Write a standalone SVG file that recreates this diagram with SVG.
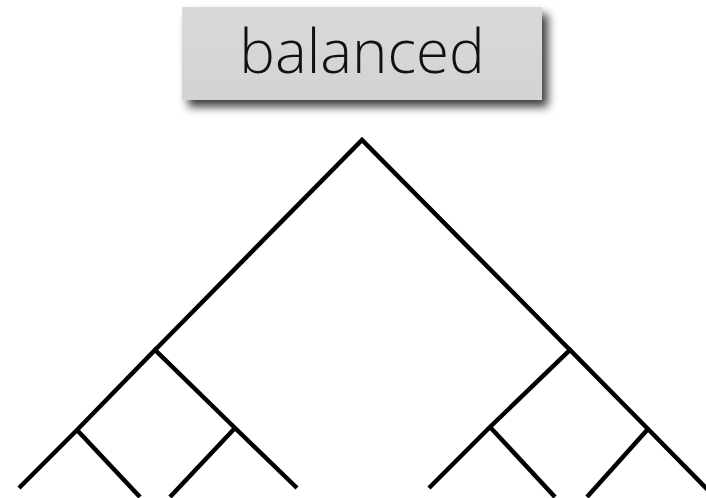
<svg xmlns="http://www.w3.org/2000/svg" width="706" height="498" viewBox="0 0 706 498">
<style>
.edge{stroke:#000;stroke-width:4.5;fill:none;stroke-linecap:butt;stroke-linejoin:miter}
.lbl{font-family:"Open Sans","Noto Sans","DejaVu Sans",sans-serif;font-size:60px;font-weight:300;fill:#111;text-anchor:middle}
</style>
<defs>
<filter id="sh" x="-20%" y="-40%" width="140%" height="180%">
<feDropShadow dx="6" dy="7" stdDeviation="5" flood-color="#000" flood-opacity="0.75"/>
</filter>
<linearGradient id="g" x1="0" y1="0" x2="0" y2="1">
<stop offset="0" stop-color="#d9d9d9"/>
<stop offset="1" stop-color="#d3d3d3"/>
</linearGradient>
</defs>
<g id="label">
<rect x="182" y="7" width="360" height="93" fill="url(#g)" filter="url(#sh)"/>
<text class="lbl" x="362" y="73">balanced</text>
</g>
<g id="connectors">
<path class="edge" d="M155,350 L362,140 L570,350"/>
<path class="edge" d="M19,488 L77,430 L155,350 L235,428 L297,488"/>
<path class="edge" d="M77,430 L140,497"/>
<path class="edge" d="M235,428 L170,497"/>
<path class="edge" d="M429,488 L490,427 L570,350 L648,429 L710,492"/>
<path class="edge" d="M490,427 L555,497"/>
<path class="edge" d="M648,429 L587,497"/>
</g>
</svg>
